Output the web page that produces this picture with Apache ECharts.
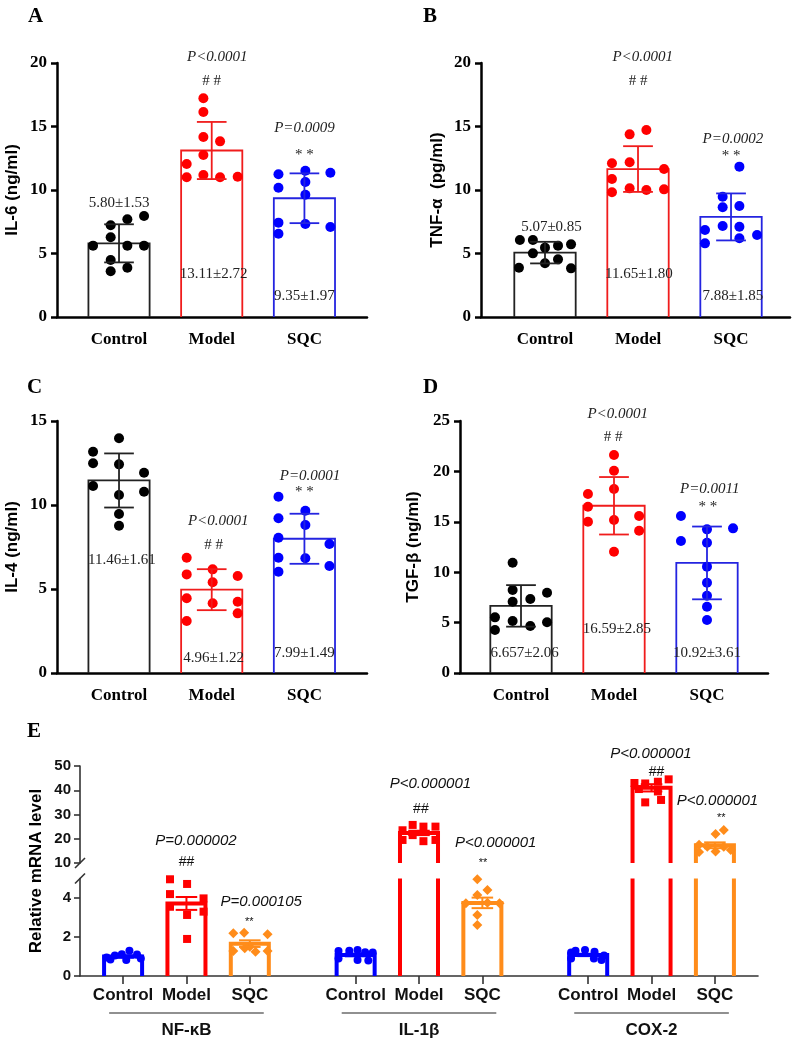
<!DOCTYPE html>
<html>
<head>
<meta charset="utf-8">
<script src="https://cdn.jsdelivr.net/npm/echarts@6.0.0/dist/echarts.min.js"></script>
<style>
  html, body { margin: 0; padding: 0; background: #fff; }
  #chart { width: 797px; height: 1044px; }
</style>
</head>
<body>
<div id="chart"></div>
<script>
const groups = ["Control", "Model", "SQC"];

// A: IL-6 (mean, SD as drawn, dots as [jitter, value])
const il6Mean = [5.80, 13.11, 9.35];
const il6Sd = [1.5, 2.25, 1.96];
const il6Dots = [
  [[0.27, 7.95], [0.09, 7.69], [-0.09, 7.22], [-0.09, 6.28], [-0.28, 5.62], [0.09, 5.62], [0.27, 5.62], [-0.09, 4.49], [-0.09, 3.6], [0.09, 3.88]],
  [[-0.09, 17.22], [-0.09, 16.14], [-0.09, 14.17], [0.09, 13.83], [-0.09, 12.76], [-0.27, 12.05], [-0.27, 11.0], [-0.09, 11.18], [0.09, 11.0], [0.28, 11.05]],
  [[-0.28, 11.24], [0.01, 11.52], [0.28, 11.36], [-0.28, 10.18], [0.01, 10.63], [0.01, 9.63], [-0.28, 7.43], [0.01, 7.32], [0.28, 7.09], [-0.28, 6.56]]
];
const il6Notes = [
  ["5.80±1.53", 0, 8.98, "num"], ["13.11±2.72", 1.02, 3.39, "num"], ["9.35±1.97", 2, 1.65, "num"],
  ["P<0.0001", 1.06, 20.47, "p"], ["# #", 1, 18.58, "mark"], ["P=0.0009", 2, 14.88, "p"], ["* *", 2, 12.76, "mark"]
];

// B: TNF-α
const tnfMean = [5.07, 11.65, 7.88];
const tnfSd = [0.85, 1.80, 1.85];
const tnfDots = [
  [[-0.27, 6.06], [-0.13, 6.06], [0.28, 5.72], [0.14, 5.62], [0, 5.46], [-0.13, 5.01], [0.14, 4.54], [0, 4.23], [-0.28, 3.88], [0.28, 3.83]],
  [[-0.09, 14.38], [0.09, 14.72], [-0.28, 12.1], [-0.09, 12.18], [0.28, 11.65], [-0.28, 10.87], [-0.28, 9.82], [-0.09, 10.13], [0.09, 10.0], [0.28, 10.05]],
  [[0.09, 11.84], [-0.09, 9.47], [-0.09, 8.64], [0.09, 8.74], [-0.09, 7.17], [0.09, 7.11], [-0.28, 6.85], [0.28, 6.46], [0.09, 6.2], [-0.28, 5.8]]
];
const tnfNotes = [
  ["5.07±0.85", 0.07, 7.09, "num"], ["11.65±1.80", 1.01, 3.39, "num"], ["7.88±1.85", 2.02, 1.65, "num"],
  ["P<0.0001", 1.05, 20.47, "p"], ["# #", 1, 18.58, "mark"], ["P=0.0002", 2.02, 14.02, "p"], ["* *", 2, 12.68, "mark"]
];

// C: IL-4
const il4Mean = [11.46, 4.96, 7.99];
const il4Sd = [1.61, 1.22, 1.49];
const il4Dots = [
  [[0, 13.97], [-0.28, 13.17], [-0.28, 12.48], [0, 12.42], [0.27, 11.92], [-0.28, 11.13], [0, 10.6], [0.27, 10.79], [0, 9.46], [0, 8.77]],
  [[-0.27, 6.86], [0.01, 6.17], [-0.27, 5.87], [0.28, 5.77], [0.01, 5.4], [-0.27, 4.45], [0.01, 4.15], [0.28, 4.24], [0.28, 3.55], [-0.27, 3.1]],
  [[-0.28, 10.49], [0.01, 9.66], [-0.28, 9.21], [0.01, 8.81], [-0.28, 8.05], [0.27, 7.68], [-0.28, 6.86], [0.01, 6.83], [0.27, 6.37], [-0.28, 6.03]]
];
const il4Notes = [
  ["11.46±1.61", 0.03, 6.73, "num"], ["P<0.0001", 1.07, 9.05, "p"], ["# #", 1.02, 7.62, "mark"],
  ["4.96±1.22", 1.02, 0.89, "num"], ["P=0.0001", 2.06, 11.73, "p"], ["* *", 2, 10.77, "mark"], ["7.99±1.49", 2, 1.19, "num"]
];

// D: TGF-β
const tgfMean = [6.657, 16.59, 10.92];
const tgfSd = [2.06, 2.85, 3.61];
const tgfDots = [
  [[-0.09, 10.94], [-0.09, 8.23], [0.28, 7.97], [0.1, 7.34], [-0.09, 7.07], [-0.28, 5.52], [-0.09, 5.16], [0.28, 5.03], [0.1, 4.66], [-0.28, 4.27]],
  [[0, 21.63], [0, 20.07], [0, 18.25], [-0.28, 17.76], [-0.28, 16.5], [0.27, 15.58], [0, 15.18], [-0.28, 15.01], [0.27, 14.12], [0, 12.03]],
  [[-0.28, 15.58], [0.28, 14.35], [0, 14.25], [-0.28, 13.1], [0, 12.93], [0, 10.55], [0, 8.96], [0, 7.67], [0, 6.58], [0, 5.26]]
];
const tgfNotes = [
  ["6.657±2.06", 0.04, 1.98, "num"], ["16.59±2.85", 1.03, 4.37, "num"], ["10.92±3.61", 2, 1.98, "num"],
  ["P<0.0001", 1.04, 25.69, "p"], ["# #", 0.99, 23.41, "mark"], ["P=0.0011", 2.03, 18.25, "p"], ["* *", 2.01, 16.47, "mark"]
];

// E: relative mRNA level
const mrnaGenes = ["NF-κB", "IL-1β", "COX-2"];
const mrnaPos = [0, 1, 2, 3.67, 4.67, 5.67, 7.34, 8.34, 9.34];
const mrnaMean = [1.0, 3.72, 1.66, 1.08, 22.4, 3.75, 1.08, 41.0, 17.3];
const mrnaSem = [0.06, 0.33, 0.17, 0.07, 0.9, 0.27, 0.06, 1.5, 1.2];
const mrnaDots = [
  [[-0.26, 0.95], [-0.13, 1.05], [-0.02, 1.12], [0.1, 1.3], [0.22, 1.1], [0.28, 0.9], [0.05, 0.82], [-0.2, 0.85]],
  [[-0.26, 4.96], [0.01, 4.72], [-0.26, 4.2], [0.27, 3.98], [-0.26, 3.55], [0.27, 3.3], [0.01, 3.13], [0.01, 1.9]],
  [[-0.26, 2.19], [-0.09, 2.22], [0.28, 2.14], [-0.26, 1.28], [-0.08, 1.42], [0.09, 1.25], [0.28, 1.28], [0.0, 1.5]],
  [[-0.27, 1.28], [-0.1, 1.3], [0.03, 1.33], [0.15, 1.22], [0.27, 1.2], [-0.27, 0.9], [0.03, 0.82], [0.2, 0.8]],
  [[-0.26, 23.5], [-0.1, 25.7], [0.07, 25.0], [0.26, 25.0], [-0.26, 19.5], [-0.1, 21.5], [0.07, 19.0], [0.26, 19.5]],
  [[-0.08, 4.96], [0.08, 4.41], [-0.08, 4.15], [-0.26, 3.73], [0.08, 3.76], [0.27, 3.73], [-0.08, 3.13], [-0.08, 2.62]],
  [[-0.27, 1.2], [-0.2, 1.3], [-0.05, 1.33], [0.1, 1.25], [0.25, 1.05], [0.21, 0.82], [0.09, 0.9], [-0.27, 0.9]],
  [[-0.27, 43.0], [-0.1, 42.8], [0.1, 43.5], [0.27, 44.5], [-0.2, 40.5], [0.1, 39.5], [-0.1, 35.0], [0.15, 36.0]],
  [[0.14, 23.6], [0.01, 22.0], [-0.25, 17.5], [-0.12, 16.7], [0.01, 14.7], [0.14, 16.7], [0.25, 15.4], [-0.25, 14.5]]
];
// [text, x, y, segment (0 lower / 1 upper), style]
const mrnaNotes = [
  ["P=0.000002", 1.15, 19.2, 1, "p"], ["##", 1.0, 5.83, 0, "hash"],
  ["P=0.000105", 2.18, 3.79, 0, "p"], ["**", 1.99, 2.78, 0, "star"],
  ["P<0.000001", 4.85, 42.6, 1, "p"], ["##", 4.70, 32.1, 1, "hash"],
  ["P<0.000001", 5.88, 18.4, 1, "p"], ["**", 5.68, 5.78, 0, "star"],
  ["P<0.000001", 8.33, 54.9, 1, "p"], ["##", 8.42, 47.6, 1, "hash"],
  ["P<0.000001", 9.38, 35.6, 1, "p"], ["**", 9.44, 28.7, 1, "star"]
];

const SERIF = "'Liberation Serif', 'Times New Roman', serif";
const SANS = "'Liberation Sans', Arial, sans-serif";
const dotColors = ["#000000", "#ff0000", "#0000ff"];
const barColors = ["#222222", "#f01c1c", "#2424e0"];
const mrnaColors = ["#0000ff", "#ff0000", "#ff8c1a"];
const mrnaSymbols = ["circle", "rect", "diamond"];
const mrnaSymbolSize = [8, 8, 10];

const noteStyles = {
  num: { fontFamily: SERIF, fontSize: 15, fill: "#222" },
  p: { fontFamily: SERIF, fontSize: 15, fontStyle: "italic", fill: "#222" },
  mark: { fontFamily: SERIF, fontSize: 15, fill: "#222" }
};
const mrnaNoteStyles = {
  p: { fontFamily: SANS, fontSize: 15, fontStyle: "italic", fill: "#111" },
  hash: { fontFamily: SANS, fontSize: 14, fill: "#111" },
  star: { fontFamily: SANS, fontSize: 11, fill: "#111" }
};

const panels = [
  { mean: il6Mean, sd: il6Sd, dots: il6Dots, notes: il6Notes, name: "IL-6 (ng/ml)", yMax: 20,
    grid: { left: 57, top: 63, width: 310, height: 254 }, xMin: -0.669, xMax: 2.675, nameGap: 36 },
  { mean: tnfMean, sd: tnfSd, dots: tnfDots, notes: tnfNotes, name: "TNF-α  (pg/ml)", yMax: 20,
    grid: { left: 481, top: 63, width: 309, height: 254 }, xMin: -0.688, xMax: 2.634, nameGap: 35 },
  { mean: il4Mean, sd: il4Sd, dots: il4Dots, notes: il4Notes, name: "IL-4 (ng/ml)", yMax: 15,
    grid: { left: 57, top: 421, width: 310, height: 252 }, xMin: -0.669, xMax: 2.675, nameGap: 36 },
  { mean: tgfMean, sd: tgfSd, dots: tgfDots, notes: tgfNotes, name: "TGF-β (ng/ml)", yMax: 25,
    grid: { left: 460, top: 421, width: 308, height: 252 }, xMin: -0.656, xMax: 2.656, nameGap: 38 }
];

// bar outline (no bottom edge), clipped to the grid, open top when cut by the axis break
function barItem(colors, halfW, lw) {
  return function (params, api) {
    const cs = params.coordSys;
    const x = api.value(0);
    const p = api.coord([x, api.value(1)]);
    const bottomEdge = cs.y + cs.height;
    if (p[1] >= bottomEdge) return null;
    const bot = Math.min(api.coord([x, 0])[1], bottomEdge);
    const w = api.size([halfW * 2, 0])[0] / 2;
    const style = { stroke: colors[api.value(2)], lineWidth: lw, fill: null };
    const xl = p[0] - w, xr = p[0] + w;
    if (p[1] < cs.y) {
      return {
        type: "group",
        children: [
          { type: "line", shape: { x1: xl, y1: bot, x2: xl, y2: cs.y }, style },
          { type: "line", shape: { x1: xr, y1: bot, x2: xr, y2: cs.y }, style }
        ]
      };
    }
    return { type: "polyline", shape: { points: [[xl, bot], [xl, p[1]], [xr, p[1]], [xr, bot]] }, style };
  };
}

function errItem(colors, capHalf, lw) {
  return function (params, api) {
    const x = api.value(0), m = api.value(1), e = api.value(2);
    const hi = api.coord([x, m + e]);
    const lo = api.coord([x, m - e]);
    const w = api.size([capHalf * 2, 0])[0] / 2;
    const style = { stroke: colors[api.value(3)], lineWidth: lw };
    return {
      type: "group",
      children: [
        { type: "line", shape: { x1: hi[0], y1: hi[1], x2: lo[0], y2: lo[1] }, style },
        { type: "line", shape: { x1: hi[0] - w, y1: hi[1], x2: hi[0] + w, y2: hi[1] }, style },
        { type: "line", shape: { x1: lo[0] - w, y1: lo[1], x2: lo[0] + w, y2: lo[1] }, style }
      ]
    };
  };
}

function noteItem(list, styles) {
  return function (params, api) {
    const n = list[api.value(2)];
    const p = api.coord([api.value(0), api.value(1)]);
    return {
      type: "text", x: p[0], y: p[1],
      style: Object.assign({ text: n[0], align: "center", verticalAlign: "middle" }, styles[n[n.length - 1]])
    };
  };
}

const option = {
  animation: false,
  backgroundColor: "#fff",
  title: [
    ["A", 28, 6], ["B", 423, 6], ["C", 27, 377], ["D", 423, 377], ["E", 27, 721]
  ].map(([t, l, tp]) => ({
    text: t, left: l, top: tp, padding: 0,
    textStyle: { fontFamily: SERIF, fontWeight: "bold", fontSize: 21, color: "#000" }
  })),
  grid: [],
  xAxis: [],
  yAxis: [],
  series: []
};

panels.forEach((p, i) => {
  option.grid.push(Object.assign({ outerBoundsMode: "none" }, p.grid));
  option.xAxis.push({
    type: "value", gridIndex: i, min: p.xMin, max: p.xMax,
    axisLine: { onZero: false, lineStyle: { color: "#000", width: 2.5 } },
    axisTick: { show: false },
    splitLine: { show: false },
    axisLabel: {
      customValues: [0, 1, 2],
      formatter: (v) => groups[Math.round(v)],
      fontFamily: SERIF, fontWeight: "bold", fontSize: 17, color: "#000", margin: 14
    }
  });
  option.yAxis.push({
    type: "value", gridIndex: i, min: 0, max: p.yMax, interval: 5,
    name: p.name, nameLocation: "middle", nameGap: p.nameGap,
    nameTextStyle: { fontFamily: SANS, fontWeight: "bold", fontSize: 17, color: "#000" },
    axisLine: { onZero: false, lineStyle: { color: "#000", width: 2.5 } },
    axisTick: { length: 6, lineStyle: { color: "#000", width: 2.5 } },
    splitLine: { show: false },
    axisLabel: { fontFamily: SERIF, fontWeight: "bold", fontSize: 17, color: "#000", margin: 10 }
  });
  const ax = { xAxisIndex: i, yAxisIndex: i };
  option.series.push(Object.assign({
    type: "custom", z: 2, silent: true, renderItem: barItem(barColors, 0.33, 1.8),
    encode: { x: 0, y: 1 }, data: p.mean.map((m, g) => [g, m, g])
  }, ax));
  option.series.push(Object.assign({
    type: "scatter", z: 3, silent: true, symbolSize: 10,
    data: p.dots.flatMap((list, g) => list.map(([dx, v]) => ({ value: [g + dx, v], itemStyle: { color: dotColors[g], opacity: 1 } })))
  }, ax));
  option.series.push(Object.assign({
    type: "custom", z: 4, silent: true, renderItem: errItem(barColors, 0.16, 1.8),
    encode: { x: 0, y: 1 }, data: p.mean.map((m, g) => [g, m, p.sd[g], g])
  }, ax));
  option.series.push(Object.assign({
    type: "custom", z: 5, silent: true, renderItem: noteItem(p.notes, noteStyles),
    encode: { x: 0, y: 1 }, data: p.notes.map((n, k) => [n[1], n[2], k])
  }, ax));
});

// Panel E: broken y axis = lower segment (grid 4) + upper segment (grid 5), grid 6 only carries the name
const eXMin = -0.68, eXMax = 10.02;
const lowIdx = 4, upIdx = 5, nameIdx = 6;
option.grid.push({ left: 80, top: 878.5, width: 678, height: 97.5, outerBoundsMode: "none" });
option.grid.push({ left: 80, top: 766, width: 678, height: 97, outerBoundsMode: "none" });
option.grid.push({ left: 80, top: 766, width: 678, height: 210, outerBoundsMode: "none" });

const eAxisLine = { onZero: false, lineStyle: { color: "#333", width: 1.6 } };
const eTick = { length: 6, lineStyle: { color: "#333", width: 1.6 } };
const eLabel = { fontFamily: SANS, fontWeight: "bold", fontSize: 15, color: "#111", margin: 9 };

option.xAxis.push({
  type: "value", gridIndex: lowIdx, min: eXMin, max: eXMax,
  axisLine: eAxisLine, splitLine: { show: false },
  axisTick: { customValues: mrnaPos, length: 8, lineStyle: { color: "#333", width: 1.6 } },
  axisLabel: {
    customValues: mrnaPos,
    formatter: (v) => groups[mrnaPos.findIndex((q) => Math.abs(q - v) < 1e-6) % 3],
    fontFamily: SANS, fontWeight: "bold", fontSize: 17, color: "#111", margin: 11
  }
});
option.xAxis.push({ type: "value", gridIndex: upIdx, min: eXMin, max: eXMax, show: false });
option.xAxis.push({ type: "value", gridIndex: nameIdx, min: eXMin, max: eXMax, show: false });

option.yAxis.push({
  type: "value", gridIndex: lowIdx, min: 0, max: 5,
  axisLine: eAxisLine, splitLine: { show: false },
  axisTick: Object.assign({ customValues: [0, 2, 4] }, eTick),
  axisLabel: Object.assign({ customValues: [0, 2, 4] }, eLabel)
});
option.yAxis.push({
  type: "value", gridIndex: upIdx, min: 10, max: 50, interval: 10,
  axisLine: eAxisLine, splitLine: { show: false },
  axisTick: eTick, axisLabel: eLabel
});
option.yAxis.push({
  type: "value", gridIndex: nameIdx, min: 0, max: 1,
  name: "Relative mRNA level", nameLocation: "middle", nameGap: 35,
  nameTextStyle: { fontFamily: SANS, fontWeight: "bold", fontSize: 17, color: "#000" },
  axisLine: { show: false }, axisTick: { show: false }, axisLabel: { show: false }, splitLine: { show: false }
});

const barData = mrnaMean.map((m, k) => [mrnaPos[k], m, k % 3]);
const errData = mrnaMean.map((m, k) => [mrnaPos[k], m, mrnaSem[k], k % 3]);
const dotData = (keep) => mrnaDots.flatMap((list, k) => list.filter(([, v]) => keep(v)).map(([dx, v]) => ({
  value: [mrnaPos[k] + dx, v],
  symbol: mrnaSymbols[k % 3],
  symbolSize: mrnaSymbolSize[k % 3],
  itemStyle: { color: mrnaColors[k % 3], opacity: 1 }
})));

[[lowIdx, (v) => v <= 5, (d) => d[1] + d[2] <= 5], [upIdx, (v) => v >= 10, (d) => d[1] - d[2] >= 10]].forEach(([gi, keepDot, keepErr], seg) => {
  const ax = { xAxisIndex: gi, yAxisIndex: gi };
  option.series.push(Object.assign({
    type: "custom", z: 2, silent: true, renderItem: barItem(mrnaColors, 0.3, 4),
    encode: { x: 0, y: 1 }, data: barData
  }, ax));
  option.series.push(Object.assign({ type: "scatter", z: 3, silent: true, data: dotData(keepDot) }, ax));
  option.series.push(Object.assign({
    type: "custom", z: 4, silent: true, renderItem: errItem(mrnaColors, 0.17, 2),
    encode: { x: 0, y: 1 }, data: errData.filter(keepErr)
  }, ax));
  const notes = mrnaNotes.filter((n) => n[3] === seg);
  option.series.push(Object.assign({
    type: "custom", z: 5, silent: true, renderItem: noteItem(notes, mrnaNoteStyles),
    encode: { x: 0, y: 1 }, data: notes.map((n, k) => [n[1], n[2], k])
  }, ax));
  // break slash on the y axis
  option.series.push(Object.assign({
    type: "custom", z: 5, silent: true, encode: { x: 0, y: 1 },
    data: [[eXMin, seg === 0 ? 5 : 10]],
    renderItem: (params, api) => {
      const p = api.coord([api.value(0), api.value(1)]);
      return { type: "line", shape: { x1: p[0] - 5, y1: p[1] + 5, x2: p[0] + 5, y2: p[1] - 5 }, style: { stroke: "#333", lineWidth: 1.6 } };
    }
  }, ax));
});

// gene group labels with underline below the category labels
option.series.push({
  type: "custom", z: 5, silent: true, xAxisIndex: lowIdx, yAxisIndex: lowIdx, encode: { x: 0, y: 1 },
  data: mrnaGenes.map((g, k) => [mrnaPos[3 * k + 1], 0, k]),
  renderItem: (params, api) => {
    const p = api.coord([api.value(0), api.value(1)]);
    const w = api.size([2.44, 0])[0] / 2;
    return {
      type: "group",
      children: [
        { type: "line", shape: { x1: p[0] - w, y1: p[1] + 37, x2: p[0] + w, y2: p[1] + 37 }, style: { stroke: "#222", lineWidth: 1.2 } },
        { type: "text", x: p[0], y: p[1] + 54, style: { text: mrnaGenes[api.value(2)], align: "center", verticalAlign: "middle", fontFamily: SANS, fontWeight: "bold", fontSize: 17, fill: "#111" } }
      ]
    };
  }
});

const chart = echarts.init(document.getElementById("chart"));
chart.setOption(option);
window.addEventListener("resize", () => chart.resize());
</script>
</body>
</html>
